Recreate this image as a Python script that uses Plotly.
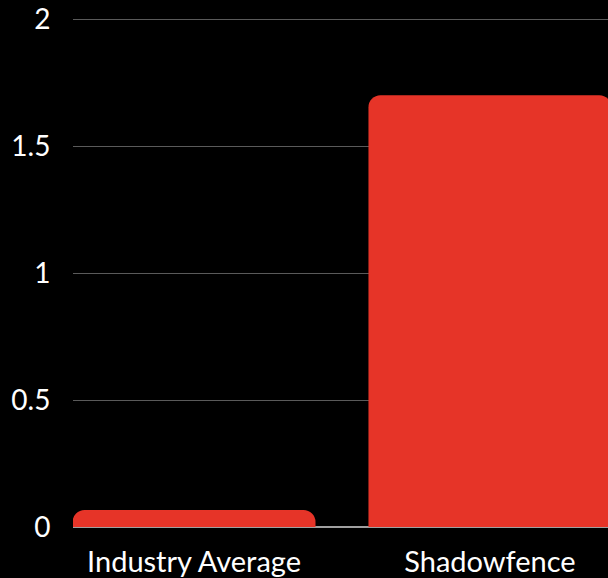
import plotly.graph_objects as go

categories = ["Industry Average", "Shadowfence"]
values = [0.067, 1.70]
y_ticks = [0, 0.5, 1, 1.5, 2]
y_labels = ["0", "0.5", "1", "1.5", "2"]

fig = go.Figure(go.Bar(
    x=[0, 1], y=values, width=0.821,
    marker=dict(color="#e63428", line=dict(width=0)),
))
fig.update_layout(
    width=608, height=578,
    margin=dict(l=73, r=0, t=17, b=51),
    paper_bgcolor="black", plot_bgcolor="black",
    barcornerradius=12,
    showlegend=False,
    font=dict(family="Lato", color="white", size=24),
)
fig.update_xaxes(
    range=[-0.409, 1.399], tickvals=[0, 1], ticktext=categories,
    showgrid=False, zeroline=False, showline=False,
    ticks="outside", ticklen=9, tickcolor="rgba(0,0,0,0)",
    tickfont=dict(size=29), automargin=False,
)
fig.update_yaxes(
    range=[0, 2.0079], tickvals=y_ticks, ticktext=y_labels,
    showgrid=True, gridcolor="#5a5a5a", gridwidth=1,
    zeroline=True, zerolinecolor="#a0a0a0", zerolinewidth=2,
    showline=False,
    ticks="outside", ticklen=16, tickcolor="rgba(0,0,0,0)",
    tickfont=dict(size=28), automargin=False,
)
fig.write_html("out.html")
